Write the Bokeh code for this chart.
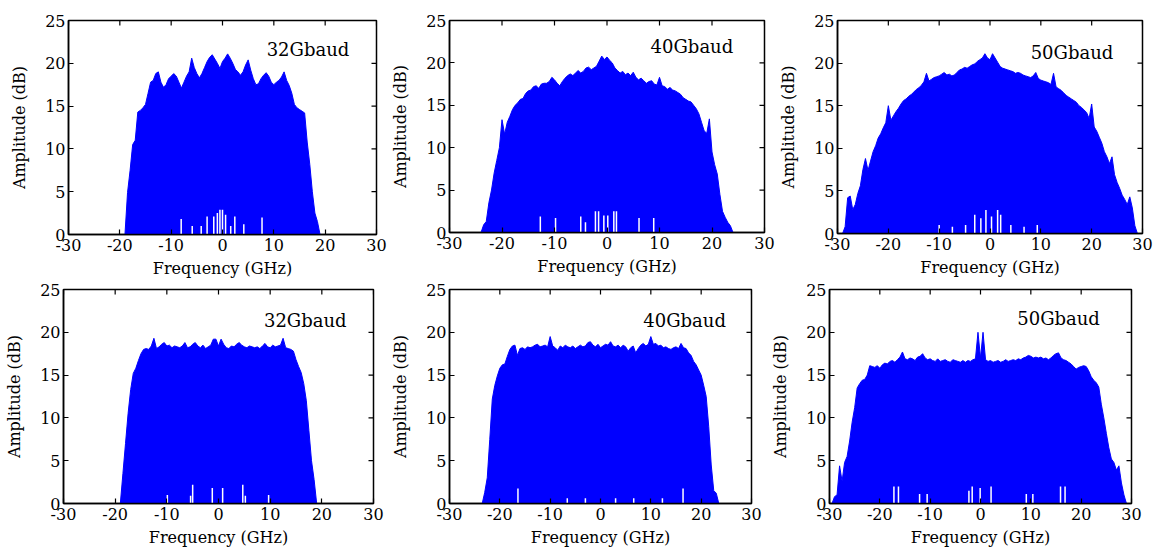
import numpy as np
from bokeh.plotting import figure
from bokeh.models import Range1d, FixedTicker
from bokeh.layouts import column, row
from bokeh.core.properties import value
from bokeh.embed import file_html
from bokeh.resources import INLINE

# ---------------- data (envelopes, 0.5 GHz grid) ----------------
freq_32a = np.arange(-19.0, 19.01, 0.5)
amp_32a = [0, 4.9, 7.5, 10.5, 11.0, 14.3, 14.5, 14.8, 15.2, 16.5, 17.8, 18.0, 18.8, 19.0,
           17.8, 17.2, 17.5, 18.2, 18.5, 18.8, 18.5, 17.8, 17.1, 17.8, 18.5, 19.0, 20.6,
           19.5, 18.8, 18.3, 18.8, 19.5, 20.2, 20.7, 21.0, 20.5, 20.0, 19.4, 20.2, 20.6,
           21.1, 20.6, 20.0, 19.3, 19.0, 18.6, 19.0, 19.8, 20.4, 19.2, 18.2, 17.5, 17.6,
           18.2, 18.6, 18.9, 18.5, 17.8, 17.5, 17.8, 18.0, 18.4, 19.0, 18.0, 17.4, 16.5,
           15.2, 14.8, 14.6, 14.4, 14.2, 10.8, 8.2, 5.0, 2.5, 1.5, 0]
gap_f_32a = [-8.05, -5.9, -4.15, -3.0, -1.7, -1.0, -0.5, 0.0, 0.6, 1.6, 2.4, 4.15, 7.7]
gap_h_32a = [1.8, 1.0, 1.0, 2.1, 2.1, 2.5, 2.9, 2.9, 2.3, 1.0, 2.1, 1.2, 2.0]

freq_40a = np.arange(-24.0, 24.01, 0.5)
amp_40a = [0, 0.9, 1.3, 3.5, 5.0, 7.0, 8.5, 10.0, 13.3, 11.6, 13.0, 13.7, 14.5, 15.0, 15.3,
           15.7, 15.8, 16.4, 16.7, 16.8, 17.2, 17.3, 17.0, 17.5, 17.6, 17.6, 17.8, 18.3,
           18.0, 17.6, 17.3, 17.8, 18.2, 18.5, 18.7, 18.5, 18.8, 19.1, 18.8, 19.0, 19.4,
           19.5, 19.2, 19.4, 19.6, 20.2, 20.8, 20.4, 20.7, 20.3, 20.0, 19.4, 19.1, 18.8,
           19.0, 18.6, 18.8, 18.5, 18.9, 18.3, 18.0, 18.2, 17.9, 17.6, 17.8, 17.9, 17.5,
           17.4, 18.3, 17.3, 17.2, 16.9, 17.1, 16.8, 16.7, 16.5, 16.3, 15.9, 15.7, 15.5,
           15.4, 15.0, 14.6, 14.0, 13.0, 12.0, 11.7, 13.4, 9.5, 8.0, 6.9, 4.5, 2.5, 1.8,
           1.2, 0.8, 0]
gap_f_40a = [-12.7, -9.8, -5.0, -4.1, -2.2, -1.6, -0.6, 0.15, 1.3, 1.8, 6.1, 8.9]
gap_h_40a = [1.9, 1.7, 1.9, 1.2, 2.5, 2.5, 2.0, 2.0, 2.5, 2.5, 1.7, 1.7]

freq_50a = np.arange(-29.0, 29.01, 0.5)
amp_50a = [0, 0.8, 4.2, 4.4, 2.8, 3.4, 4.7, 5.6, 7.5, 8.8, 7.4, 8.5, 9.6, 10.3, 11.2, 11.7,
           12.4, 13.0, 15.0, 13.3, 13.8, 14.3, 14.7, 15.2, 15.6, 15.8, 16.1, 16.3, 16.6,
           16.9, 17.1, 17.4, 17.8, 18.8, 17.9, 18.1, 18.3, 18.4, 18.5, 18.7, 18.9, 18.6,
           18.7, 18.5, 18.6, 18.9, 19.2, 19.3, 19.5, 19.4, 19.6, 19.8, 19.9, 20.2, 20.4,
           20.6, 21.1, 20.6, 20.4, 21.1, 20.6, 20.1, 19.6, 19.4, 19.3, 19.2, 19.1, 19.0,
           18.8, 18.9, 18.8, 18.6, 18.5, 18.4, 18.3, 18.5, 18.9, 18.2, 18.0, 17.9, 17.8,
           17.7, 17.5, 18.8, 17.2, 17.0, 16.8, 16.5, 16.2, 16.0, 15.8, 15.6, 15.4, 15.0,
           14.8, 14.5, 14.2, 13.5, 15.2, 12.5, 12.0, 11.3, 10.6, 9.6, 9.0, 8.2, 9.0, 6.9,
           6.0, 5.3, 4.5, 4.0, 3.4, 4.3, 3.0, 0.9, 0]
gap_f_50a = [-10.0, -7.4, -4.8, -3.0, -1.8, -0.8, 0.3, 1.5, 2.1, 4.1, 6.7, 9.3]
gap_h_50a = [1.0, 0.8, 1.0, 2.2, 1.8, 2.75, 2.0, 2.75, 2.2, 1.0, 0.8, 1.0]

freq_32b = np.arange(-19.0, 19.01, 0.5)
amp_32b = [0, 3.5, 7.0, 10.5, 13.3, 15.2, 15.8, 16.7, 17.5, 18.0, 18.1, 18.0, 18.4, 19.3,
           18.1, 18.3, 18.6, 18.8, 18.4, 18.5, 18.2, 18.4, 18.3, 18.2, 18.4, 18.8, 18.2,
           18.3, 18.6, 18.8, 18.4, 18.2, 18.5, 18.1, 18.3, 18.5, 19.2, 19.2, 18.4, 19.2,
           18.6, 18.2, 18.1, 18.4, 18.3, 18.6, 18.8, 18.5, 18.3, 18.2, 18.4, 18.3, 18.2,
           18.3, 18.1, 18.4, 18.7, 18.3, 18.2, 18.5, 18.3, 18.4, 18.5, 19.3, 18.2, 18.1,
           18.0, 17.8, 16.8, 16.0, 15.3, 14.0, 12.0, 8.5, 5.0, 2.8, 0]
gap_f_32b = [-9.9, -5.4, -5.0, -1.2, 0.8, 4.7, 5.2, 9.7]
gap_h_32b = [1.0, 0.9, 2.2, 1.8, 1.8, 2.2, 0.9, 1.0]

freq_40b = np.arange(-23.5, 23.51, 0.5)
amp_40b = [0, 1.3, 3.0, 7.5, 12.2, 13.8, 14.9, 15.8, 16.2, 16.3, 17.2, 18.0, 18.4, 18.5,
           17.3, 18.1, 18.2, 18.0, 18.3, 18.2, 18.3, 18.5, 18.6, 18.3, 18.4, 18.5, 18.3,
           19.5, 18.4, 18.2, 17.9, 18.4, 18.2, 18.5, 18.3, 18.2, 18.4, 18.1, 18.3, 18.5,
           18.3, 18.4, 18.8, 18.9, 18.5, 18.3, 18.6, 18.2, 18.4, 18.6, 18.5, 18.9, 18.4,
           18.3, 18.5, 18.2, 18.5, 18.3, 17.8, 18.2, 18.4, 17.6, 18.1, 18.5, 18.7, 18.4,
           18.6, 19.5, 18.6, 18.7, 18.4, 18.5, 18.2, 18.3, 18.1, 18.0, 18.2, 18.3, 18.1,
           18.7, 18.2, 18.1, 17.6, 17.3, 16.6, 16.2, 15.6, 15.0, 13.8, 12.5, 9.0, 4.5, 1.5,
           1.2, 0]
gap_f_40b = [-16.4, -6.6, -3.0, 3.0, 6.6, 12.3, 16.4]
gap_h_40b = [1.75, 0.6, 0.6, 0.6, 0.6, 0.6, 1.75]

freq_50b = np.arange(-29.5, 29.01, 0.5)
amp_50b = [0, 0.8, 1.0, 4.4, 2.6, 4.8, 5.5, 7.3, 9.5, 11.2, 13.5, 14.0, 14.4, 14.5, 15.0,
           16.1, 16.0, 15.9, 16.1, 15.8, 16.2, 16.4, 16.3, 16.6, 16.7, 16.5, 16.8, 17.1,
           17.7, 16.9, 16.8, 17.0, 16.9, 16.7, 17.1, 17.2, 17.5, 17.0, 16.8, 16.9, 16.7,
           16.6, 16.9, 16.6, 16.7, 16.8, 16.6, 16.5, 16.8, 16.7, 16.6, 16.5, 16.7, 16.5,
           16.7, 16.6, 16.8, 16.9, 20.0, 17.0, 20.0, 16.8, 16.6, 16.7, 16.5, 16.6, 16.7,
           16.5, 16.6, 16.8, 16.6, 16.7, 16.8, 16.7, 16.9, 16.8, 17.0, 17.1, 17.3, 17.2,
           17.0, 17.1, 17.0, 17.1, 16.9, 17.0, 16.8, 17.0, 17.3, 17.5, 17.6, 17.0, 16.8,
           16.7, 16.5, 16.3, 16.0, 15.7, 15.9, 16.0, 16.1, 16.0, 15.5, 14.8, 14.4, 14.1,
           13.6, 11.6, 10.0, 8.2, 6.5, 5.2, 4.8, 3.9, 4.4, 2.4, 1.0, 0]
gap_f_50b = [-17.2, -16.3, -12.1, -10.6, -2.3, -1.65, -0.07, 2.1, 9.1, 10.4, 15.9, 16.8]
gap_h_50b = [2.0, 2.0, 1.1, 1.1, 1.5, 2.0, 1.8, 2.0, 1.1, 1.1, 2.0, 2.0]

panel_labels = ["32Gbaud", "40Gbaud", "50Gbaud", "32Gbaud", "40Gbaud", "50Gbaud"]
x_ticks = [-30, -20, -10, 0, 10, 20, 30]
x_tick_labels = ["-30", "-20", "-10", "0", "10", "20", "30"]
y_ticks = [0, 5, 10, 15, 20, 25]
x_label = "Frequency (GHz)"
y_label = "Amplitude (dB)"

FONT = "DejaVu Serif"
BLUE = "#0000ff"
X_MIN, X_MAX, Y_MIN, Y_MAX = -30, 30, 0, 25


def make_panel(freq, amp, gap_f, gap_h, label, lx, ly, left, top, fw, fh, right, bottom):
    p = figure(frame_width=fw, frame_height=fh,
               x_range=Range1d(X_MIN, X_MAX), y_range=Range1d(Y_MIN, Y_MAX),
               output_backend="svg", toolbar_location=None,
               min_border_left=left, min_border_right=right,
               min_border_top=top, min_border_bottom=bottom,
               x_axis_label=x_label, y_axis_label=y_label)
    p.xgrid.visible = False
    p.ygrid.visible = False
    p.outline_line_color = "black"
    p.outline_line_width = 1.5
    p.background_fill_color = "white"
    p.border_fill_color = "white"

    p.varea(x=freq, y1=0, y2=amp, fill_color=BLUE, fill_alpha=1.0)
    p.line(x=freq, y=amp, line_color=BLUE, line_width=1)
    p.segment(x0=gap_f, y0=0, x1=gap_f, y1=gap_h, line_color="white", line_width=1.5)

    p.text(x=[lx], y=[ly], text=[label], text_font=value(FONT), text_font_size="18px",
           text_baseline="middle", text_align="left", text_color="black")

    # mirrored inward ticks on the top and right edges of the box
    p.ray(x=x_ticks, y=Y_MAX, length=5, length_units="screen", angle=-np.pi / 2,
          line_color="black", line_width=1.2)
    p.ray(x=X_MAX, y=y_ticks, length=5, length_units="screen", angle=np.pi,
          line_color="black", line_width=1.2)

    xa = p.xaxis[0]
    ya = p.yaxis[0]
    xa.ticker = FixedTicker(ticks=x_ticks)
    xa.major_label_overrides = {t: s for t, s in zip(x_ticks, x_tick_labels)}
    ya.ticker = FixedTicker(ticks=y_ticks)
    for ax in [xa, ya]:
        ax.axis_line_color = "black"
        ax.axis_line_width = 1.5
        ax.major_tick_in = 5
        ax.major_tick_out = 0
        ax.major_tick_line_width = 1.2
        ax.minor_tick_in = 0
        ax.minor_tick_out = 0
        ax.major_label_text_font = FONT
        ax.major_label_text_font_size = "16px"
        ax.major_label_text_color = "black"
        ax.axis_label_text_font = FONT
        ax.axis_label_text_font_size = "16px"
        ax.axis_label_text_font_style = "normal"
        ax.axis_label_text_color = "black"
    xa.major_label_standoff = 4
    xa.axis_label_standoff = 5
    ya.major_label_standoff = 3
    ya.axis_label_standoff = 13
    return p


p1 = make_panel(freq_32a, amp_32a, gap_f_32a, gap_h_32a, panel_labels[0], 8.6, 21.6, 68, 16, 308, 214, 12, 49)
p2 = make_panel(freq_40a, amp_40a, gap_f_40a, gap_h_40a, panel_labels[1], 8.3, 21.9, 56, 18, 315, 212, 12, 49)
p3 = make_panel(freq_50a, amp_50a, gap_f_50a, gap_h_50a, panel_labels[2], 8.0, 21.3, 56, 20, 305, 213, 12, 46)
p4 = make_panel(freq_32b, amp_32b, gap_f_32b, gap_h_32b, panel_labels[3], 8.8, 21.4, 63, 8, 310, 214, 12, 52)
p5 = make_panel(freq_40b, amp_40b, gap_f_40b, gap_h_40b, panel_labels[4], 8.5, 21.4, 64, 9, 302, 214, 12, 51)
p6 = make_panel(freq_50b, amp_50b, gap_f_50b, gap_h_50b, panel_labels[5], 7.3, 21.6, 66, 10, 302, 214, 12, 50)

layout = column(row(p1, p2, p3), row(p4, p5, p6))

open("out.html", "w").write(file_html(layout, INLINE))
